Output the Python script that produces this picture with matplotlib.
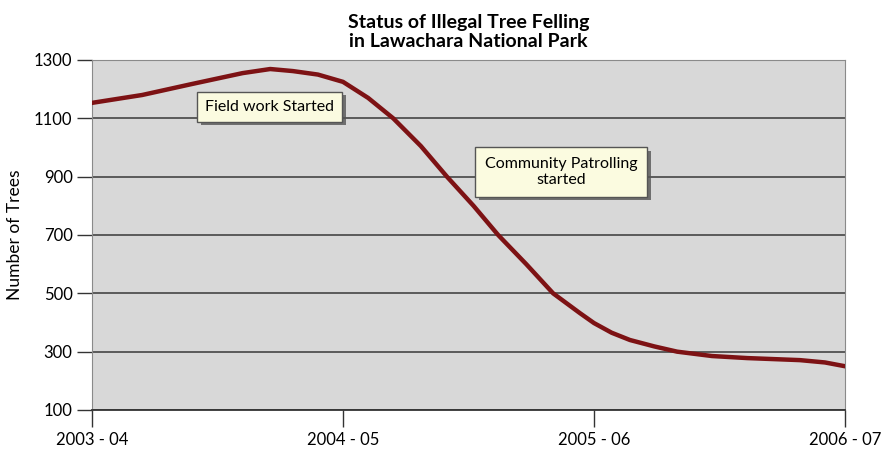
import matplotlib.pyplot as plt
import matplotlib.patheffects as pe

# positions along the x axis in years after 2003-04
years = [0.0, 0.2, 0.4, 0.6, 0.71, 0.8, 0.9, 1.0, 1.1, 1.2, 1.31, 1.414, 1.52,
         1.618, 1.73, 1.837, 1.944, 2.0, 2.07, 2.143, 2.24, 2.331, 2.47, 2.61, 2.82, 2.92, 3.0]
trees = [1153, 1180, 1218, 1255, 1269, 1262, 1250, 1225, 1170, 1100, 1005, 900, 800,
         700, 600, 500, 432, 398, 365, 340, 318, 300, 285, 278, 271, 263, 250]

tick_labels = ['2003 - 04', '2004 - 05', '2005 - 06', '2006 - 07']
y_ticks = [100, 300, 500, 700, 900, 1100, 1300]

plt.rcParams['font.family'] = ['Lato', 'DejaVu Sans']

fig = plt.figure(figsize=(8.83, 4.5), dpi=100)
ax = fig.add_axes([0.1042, 0.0889, 0.8528, 0.7778])
ax.set_facecolor('#d8d8d8')

ax.plot(years, trees, color='#7d1214', lw=3.2, solid_joinstyle='round', zorder=3)

ax.set_xlim(0, 3)
ax.set_ylim(100, 1300)
ax.set_yticks(y_ticks)
ax.set_yticklabels([str(v) for v in y_ticks], fontsize=12)
ax.set_xticks(range(4))
ax.set_xticklabels(tick_labels, fontsize=12)
ax.grid(axis='y', color='#505050', lw=1.3)
ax.set_axisbelow(True)

ax.tick_params(axis='y', length=11, width=1, color='#333333', pad=3)
ax.tick_params(axis='x', length=12, width=1, color='#333333', pad=4)
for s in ['left', 'right', 'top']:
    ax.spines[s].set_color('#8a8a8a')
ax.spines['bottom'].set_color('#333333')
ax.spines['bottom'].set_linewidth(1.3)

ax.set_ylabel('Number of Trees', fontsize=12.5, labelpad=8)
ax.set_title('Status of Illegal Tree Felling\nin Lawachara National Park',
             fontsize=14, fontweight='bold', pad=9, linespacing=1.2)

box = dict(boxstyle='square,pad=0.5', facecolor='#fbfbe0', edgecolor='#555555', lw=1)
t1 = ax.text(0.709, 1139, 'Field work Started', ha='center', va='center',
             fontsize=11.5, bbox=box, zorder=4)
t2 = ax.text(1.869, 916, 'Community Patrolling\nstarted', ha='center', va='center',
             fontsize=11.5, bbox=dict(box, boxstyle='square,pad=0.6'), zorder=4,
             linespacing=1.25)
for t in (t1, t2):
    t.get_bbox_patch().set_path_effects([
        pe.SimplePatchShadow(offset=(2.5, -2.5), shadow_rgbFace='#555555', alpha=0.8),
        pe.Normal()])

fig.savefig('out.png', dpi=100)
